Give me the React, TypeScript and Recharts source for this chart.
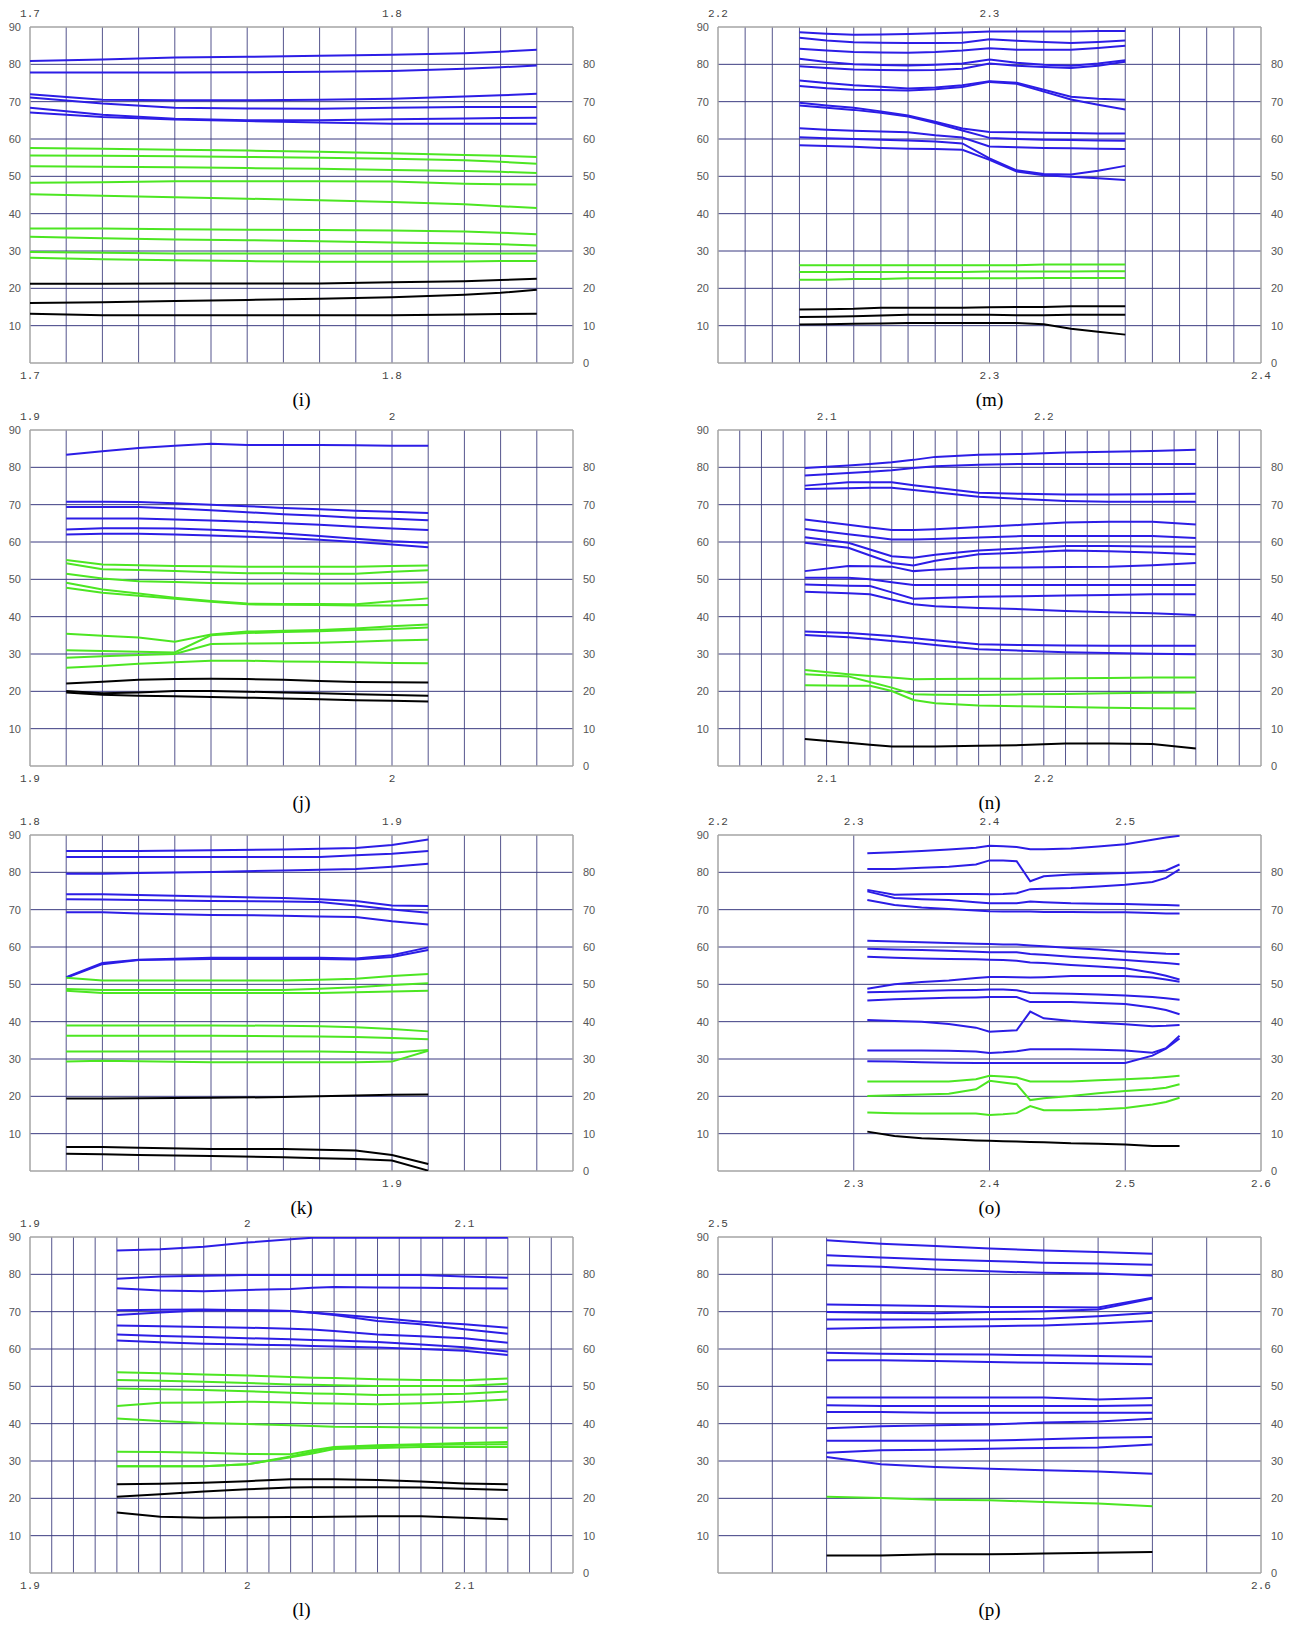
import { LineChart, Line, XAxis, YAxis, ReferenceLine } from 'recharts';

// ---- panel (i) ----
const iX = [1.7, 1.72, 1.74, 1.76, 1.78, 1.8, 1.82, 1.83, 1.84];
const iBlue = [
  [80.9, 81.3, 81.8, 82.0, 82.3, 82.6, 83.0, 83.4, 83.9],
  [77.8, 77.8, 77.8, 77.9, 78.0, 78.2, 78.8, 79.2, 79.7],
  [72.0, 70.5, 70.4, 70.4, 70.5, 70.8, 71.4, 71.7, 72.1],
  [71.1, 69.5, 68.4, 68.2, 68.1, 68.4, 68.6, 68.6, 68.6],
  [68.4, 66.5, 65.4, 65.0, 65.0, 65.3, 65.5, 65.6, 65.7],
  [67.1, 65.9, 65.2, 64.8, 64.4, 64.1, 64.1, 64.1, 64.1],
];
const iGreen = [
  [57.6, 57.4, 57.1, 56.9, 56.6, 56.2, 55.7, 55.5, 55.2],
  [55.6, 55.5, 55.4, 55.2, 55.0, 54.7, 54.3, 53.9, 53.4],
  [52.7, 52.6, 52.4, 52.2, 52.0, 51.7, 51.4, 51.2, 50.9],
  [48.3, 48.4, 48.7, 48.7, 48.7, 48.6, 48.0, 47.9, 47.8],
  [45.2, 44.8, 44.4, 44.0, 43.6, 43.1, 42.5, 42.0, 41.5],
  [36.0, 36.0, 35.8, 35.7, 35.6, 35.5, 35.2, 34.9, 34.5],
  [33.8, 33.4, 33.1, 32.9, 32.6, 32.3, 32.0, 31.8, 31.5],
  [29.7, 29.5, 29.3, 29.3, 29.3, 29.3, 29.3, 29.3, 29.3],
  [28.2, 27.8, 27.5, 27.3, 27.1, 27.1, 27.2, 27.3, 27.3],
];
const iBlack = [
  [21.25, 21.25, 21.3, 21.3, 21.3, 21.6, 21.9, 22.2, 22.6],
  [16.1, 16.3, 16.6, 16.9, 17.2, 17.6, 18.3, 18.8, 19.6],
  [13.2, 12.8, 12.8, 12.8, 12.8, 12.8, 13.0, 13.1, 13.2],
];

// ---- panel (m) ----
const mX = [2.23, 2.24, 2.25, 2.26, 2.27, 2.28, 2.29, 2.3, 2.31, 2.32, 2.33, 2.34, 2.35];
const mBlue = [
  [88.6, 88.2, 87.9, 88.0, 88.1, 88.3, 88.5, 88.8, 88.8, 88.8, 88.8, 88.9, 88.9],
  [87.1, 86.4, 85.9, 85.8, 85.7, 85.7, 85.8, 86.7, 86.3, 86.0, 85.7, 86.0, 86.4],
  [84.2, 83.7, 83.3, 83.2, 83.1, 83.3, 83.7, 84.3, 83.9, 83.9, 83.9, 84.4, 85.0],
  [81.5, 80.6, 80.0, 79.8, 79.7, 79.9, 80.2, 81.3, 80.4, 79.9, 79.6, 80.2, 81.1],
  [79.5, 79.0, 78.6, 78.5, 78.4, 78.5, 78.8, 80.2, 79.6, 79.3, 79.0, 79.6, 80.7],
  [75.7, 75.0, 74.4, 74.0, 73.5, 73.8, 74.4, 75.5, 75.1, 73.2, 71.3, 70.8, 70.5],
  [74.2, 73.6, 73.2, 73.1, 73.0, 73.3, 73.9, 75.3, 74.8, 72.7, 70.6, 69.2, 67.9],
  [69.7, 69.0, 68.4, 67.4, 66.3, 64.6, 62.8, 61.9, 61.8, 61.7, 61.6, 61.5, 61.5],
  [69.0, 68.4, 67.8, 67.0, 66.0, 64.3, 62.3, 60.3, 60.0, 59.8, 59.7, 59.6, 59.5],
  [62.9, 62.5, 62.2, 62.0, 61.8, 61.0, 60.4, 58.0, 57.8, 57.6, 57.5, 57.4, 57.3],
  [60.5, 60.2, 60.0, 59.8, 59.6, 59.3, 58.8, 54.8, 51.6, 50.6, 50.5, 51.5, 52.8],
  [58.3, 58.1, 57.9, 57.6, 57.4, 57.3, 57.1, 54.4, 51.3, 50.3, 49.9, 49.5, 49.0],
];
const mGreen = [
  [26.2, 26.2, 26.2, 26.2, 26.2, 26.2, 26.2, 26.2, 26.2, 26.4, 26.4, 26.4, 26.4],
  [24.4, 24.4, 24.4, 24.4, 24.4, 24.4, 24.4, 24.5, 24.5, 24.5, 24.5, 24.6, 24.6],
  [22.3, 22.3, 22.5, 22.5, 22.7, 22.7, 22.7, 22.7, 22.7, 22.8, 22.8, 22.8, 22.8],
];
const mBlack = [
  [14.3, 14.4, 14.5, 14.8, 14.8, 14.8, 14.8, 14.9, 15.0, 15.0, 15.2, 15.2, 15.2],
  [12.3, 12.4, 12.5, 12.7, 12.9, 12.9, 12.9, 12.9, 12.8, 12.8, 12.9, 12.9, 12.95],
  [10.3, 10.4, 10.5, 10.6, 10.7, 10.7, 10.7, 10.7, 10.7, 10.4, 9.2, 8.4, 7.6],
];

// ---- panel (j) ----
const jX = [1.91, 1.92, 1.93, 1.94, 1.95, 1.96, 1.97, 1.98, 1.99, 2.0, 2.01];
const jBlue = [
  [83.4, 84.3, 85.2, 85.8, 86.3, 86.0, 86.0, 86.0, 85.9, 85.8, 85.8],
  [70.75, 70.75, 70.7, 70.4, 70.0, 69.6, 69.1, 68.8, 68.4, 68.1, 67.8],
  [69.4, 69.4, 69.4, 69.0, 68.5, 68.0, 67.4, 67.0, 66.5, 66.2, 65.8],
  [66.3, 66.3, 66.3, 66.0, 65.75, 65.4, 65.0, 64.6, 64.1, 63.6, 63.2],
  [63.35, 63.7, 63.7, 63.6, 63.3, 62.9, 62.3, 61.6, 60.9, 60.2, 59.8],
  [62.0, 62.2, 62.2, 62.0, 61.75, 61.4, 61.1, 60.6, 60.0, 59.3, 58.6],
];
const jGreen = [
  [55.2, 54.0, 53.8, 53.55, 53.5, 53.4, 53.4, 53.4, 53.4, 53.6, 53.7],
  [54.3, 52.7, 52.5, 52.2, 51.9, 51.6, 51.6, 51.5, 51.5, 52.0, 52.4],
  [51.5, 50.2, 49.5, 49.3, 49.0, 48.9, 48.9, 48.9, 48.9, 49.0, 49.2],
  [49.1, 47.3, 46.2, 45.1, 44.2, 43.5, 43.4, 43.4, 43.3, 44.1, 44.9],
  [47.75, 46.4, 45.6, 44.8, 44.0, 43.3, 43.2, 43.1, 43.0, 43.0, 43.1],
  [35.4, 34.9, 34.4, 33.3, 35.2, 36.0, 36.2, 36.4, 36.8, 37.4, 37.9],
  [31.0, 30.8, 30.6, 30.4, 35.0, 35.6, 35.9, 36.1, 36.4, 36.7, 37.1],
  [29.0, 29.4, 29.7, 30.0, 32.7, 32.8, 32.9, 33.0, 33.3, 33.6, 33.8],
  [26.3, 26.8, 27.4, 27.8, 28.2, 28.2, 28.0, 27.9, 27.8, 27.6, 27.5],
];
const jBlack = [
  [22.1, 22.6, 23.1, 23.3, 23.4, 23.3, 23.1, 22.8, 22.5, 22.4, 22.35],
  [20.1, 19.5, 19.7, 20.1, 20.1, 19.9, 19.7, 19.5, 19.2, 19.0, 18.8],
  [19.7, 19.1, 18.8, 18.7, 18.5, 18.3, 18.1, 17.9, 17.6, 17.5, 17.3],
];

// ---- panel (n) ----
const nX = [2.09, 2.11, 2.12, 2.13, 2.14, 2.15, 2.17, 2.19, 2.21, 2.23, 2.25, 2.27];
const nBlue = [
  [79.8, 80.5, 80.9, 81.35, 82.0, 82.8, 83.4, 83.6, 84.0, 84.2, 84.4, 84.7],
  [77.8, 78.5, 78.8, 79.2, 79.8, 80.3, 80.7, 80.9, 80.9, 80.9, 80.9, 80.9],
  [75.1, 76.0, 76.0, 76.0, 75.2, 74.5, 73.2, 72.9, 72.7, 72.7, 72.8, 72.9],
  [74.2, 74.4, 74.5, 74.5, 73.9, 73.3, 72.1, 71.5, 71.0, 70.75, 70.75, 70.75],
  [66.0, 64.6, 63.9, 63.2, 63.2, 63.4, 64.0, 64.6, 65.2, 65.4, 65.4, 64.7],
  [63.5, 62.1, 61.4, 60.7, 60.7, 60.8, 61.2, 61.6, 61.6, 61.6, 61.6, 61.1],
  [61.3, 59.8, 58.0, 56.2, 55.8, 56.6, 57.7, 58.3, 58.9, 58.9, 58.8, 58.7],
  [59.8, 58.45, 56.4, 54.4, 53.7, 55.0, 56.7, 57.2, 57.7, 57.5, 57.2, 56.7],
  [52.2, 53.55, 53.5, 53.4, 52.2, 52.6, 53.1, 53.2, 53.3, 53.4, 53.8, 54.4],
  [50.4, 50.4, 50.0, 49.2, 48.5, 48.5, 48.5, 48.5, 48.5, 48.5, 48.5, 48.5],
  [48.6, 48.3, 48.2, 46.5, 44.8, 45.0, 45.35, 45.5, 45.7, 45.8, 46.0, 46.0],
  [46.7, 46.3, 46.0, 44.6, 43.3, 42.8, 42.3, 42.0, 41.5, 41.2, 40.9, 40.45],
  [36.0, 35.6, 35.2, 34.8, 34.2, 33.7, 32.6, 32.4, 32.3, 32.2, 32.2, 32.2],
  [35.1, 34.5, 34.0, 33.5, 33.0, 32.4, 31.3, 30.9, 30.5, 30.3, 30.1, 29.95],
];
const nGreen = [
  [25.7, 24.6, 24.1, 23.7, 23.25, 23.3, 23.4, 23.4, 23.5, 23.6, 23.7, 23.7],
  [24.6, 24.0, 22.5, 21.0, 19.2, 19.1, 19.0, 19.2, 19.3, 19.5, 19.6, 19.7],
  [21.6, 21.5, 21.5, 20.1, 17.7, 16.8, 16.2, 16.0, 15.8, 15.6, 15.5, 15.4],
];
const nBlack = [
  [7.2, 6.2, 5.7, 5.2, 5.2, 5.2, 5.4, 5.6, 6.0, 6.0, 5.9, 4.7],
];

// ---- panel (k) ----
const kX = [1.81, 1.82, 1.83, 1.85, 1.87, 1.88, 1.89, 1.9, 1.91];
const kBlue = [
  [85.7, 85.7, 85.7, 85.9, 86.1, 86.3, 86.55, 87.3, 88.8],
  [84.1, 84.1, 84.1, 84.1, 84.1, 84.1, 84.6, 85.0, 85.7],
  [79.6, 79.6, 79.8, 80.1, 80.5, 80.7, 80.9, 81.5, 82.3],
  [74.1, 74.1, 73.9, 73.5, 73.1, 72.8, 72.3, 71.1, 71.0],
  [72.8, 72.7, 72.6, 72.3, 72.2, 72.05, 71.1, 70.05, 69.15],
  [69.3, 69.3, 69.0, 68.6, 68.4, 68.2, 68.05, 66.9, 66.0],
  [51.9, 55.7, 56.6, 57.1, 57.1, 57.1, 56.9, 57.8, 59.9],
  [51.75, 55.4, 56.5, 56.8, 56.8, 56.8, 56.65, 57.35, 59.2],
];
const kGreen = [
  [51.75, 51.0, 51.0, 51.0, 51.0, 51.2, 51.5, 52.2, 52.8],
  [48.75, 48.5, 48.5, 48.5, 48.5, 48.8, 49.2, 49.8, 50.3],
  [48.3, 47.7, 47.7, 47.7, 47.7, 47.7, 47.85, 48.1, 48.3],
  [39.0, 39.0, 39.0, 39.0, 38.9, 38.8, 38.5, 38.05, 37.4],
  [36.2, 36.2, 36.2, 36.2, 36.1, 36.05, 35.9, 35.6, 35.3],
  [32.0, 32.0, 32.0, 32.0, 32.0, 32.0, 31.9, 31.7, 32.4],
  [29.3, 29.5, 29.4, 29.1, 29.1, 29.1, 29.1, 29.3, 32.2],
];
const kBlack = [
  [19.45, 19.45, 19.5, 19.6, 19.8, 20.0, 20.2, 20.4, 20.5],
  [6.4, 6.4, 6.2, 5.9, 5.9, 5.7, 5.5, 4.3, 1.9],
  [4.6, 4.5, 4.3, 4.05, 3.7, 3.4, 3.2, 2.8, 0.1],
];

// ---- panel (o) ----
const oX = [2.31, 2.33, 2.35, 2.37, 2.39, 2.4, 2.41, 2.42, 2.43, 2.44, 2.46, 2.48, 2.5, 2.52, 2.53, 2.54];
const oBlue = [
  [85.1, 85.4, 85.7, 86.1, 86.6, 87.1, 87.0, 86.8, 86.2, 86.2, 86.4, 86.9, 87.55, 88.7, 89.3, 89.8],
  [80.9, 80.9, 81.2, 81.5, 82.1, 83.2, 83.2, 83.0, 77.6, 78.95, 79.4, 79.6, 79.85, 80.1, 80.5, 82.1],
  [75.3, 74.0, 74.1, 74.2, 74.2, 74.15, 74.2, 74.4, 75.5, 75.6, 75.8, 76.2, 76.7, 77.4, 78.5, 80.8],
  [74.9, 73.1, 72.8, 72.6, 72.0, 71.7, 71.7, 71.7, 72.2, 72.0, 71.7, 71.6, 71.5, 71.3, 71.25, 71.1],
  [72.6, 71.25, 70.6, 70.2, 69.8, 69.6, 69.5, 69.5, 69.5, 69.4, 69.4, 69.3, 69.3, 69.1, 69.0, 69.0],
  [61.7, 61.5, 61.3, 61.1, 60.9, 60.8, 60.7, 60.65, 60.4, 60.2, 59.75, 59.3, 58.8, 58.4, 58.2, 58.1],
  [59.5, 59.3, 59.2, 59.0, 58.7, 58.6, 58.6, 58.6, 58.1, 57.9, 57.4, 57.0, 56.5, 56.0, 55.7, 55.4],
  [57.4, 57.1, 56.9, 56.8, 56.7, 56.6, 56.5, 56.3, 55.85, 55.7, 55.2, 54.8, 54.3, 53.1, 52.3, 51.3],
  [48.8, 50.0, 50.6, 51.05, 51.7, 51.95, 51.95, 51.9, 51.8, 51.9, 52.2, 52.2, 52.2, 51.8, 51.3, 50.7],
  [47.9, 48.0, 48.2, 48.4, 48.5, 48.6, 48.6, 48.4, 47.7, 47.6, 47.5, 47.3, 47.0, 46.6, 46.3, 45.9],
  [45.7, 46.0, 46.2, 46.4, 46.5, 46.6, 46.6, 46.6, 45.25, 45.25, 45.25, 45.0, 44.7, 43.8, 43.1, 42.0],
  [40.45, 40.2, 40.0, 39.4, 38.4, 37.3, 37.5, 37.7, 42.7, 40.9, 40.2, 39.7, 39.3, 38.8, 38.9, 39.1],
  [32.3, 32.3, 32.3, 32.2, 32.0, 31.6, 31.8, 32.1, 32.6, 32.6, 32.6, 32.5, 32.3, 31.7, 32.9, 36.2],
  [29.4, 29.3, 29.1, 29.0, 28.9, 28.9, 28.9, 28.9, 28.9, 28.9, 28.9, 28.9, 28.95, 30.9, 32.8, 35.5],
];
const oGreen = [
  [24.0, 24.0, 24.0, 24.0, 24.6, 25.5, 25.3, 25.05, 24.0, 24.0, 24.0, 24.3, 24.6, 24.9, 25.2, 25.5],
  [20.1, 20.3, 20.5, 20.7, 21.9, 24.15, 23.7, 23.25, 19.0, 19.5, 20.1, 20.8, 21.4, 21.9, 22.3, 23.25],
  [15.7, 15.5, 15.4, 15.4, 15.4, 15.0, 15.2, 15.5, 17.4, 16.3, 16.3, 16.45, 16.9, 17.8, 18.5, 19.6],
];
const oBlack = [
  [10.55, 9.4, 8.75, 8.5, 8.2, 8.1, 8.0, 7.9, 7.8, 7.7, 7.4, 7.3, 7.1, 6.7, 6.7, 6.7],
];

// ---- panel (l) ----
const lX = [1.94, 1.96, 1.98, 2.0, 2.02, 2.03, 2.04, 2.06, 2.08, 2.1, 2.12];
const lBlue = [
  [86.4, 86.7, 87.4, 88.5, 89.4, 89.8, 89.8, 89.8, 89.8, 89.8, 89.8],
  [78.8, 79.4, 79.6, 79.8, 79.8, 79.8, 79.8, 79.8, 79.8, 79.4, 79.1],
  [76.25, 75.7, 75.5, 75.8, 76.1, 76.4, 76.6, 76.5, 76.4, 76.3, 76.2],
  [70.4, 70.5, 70.6, 70.4, 70.2, 69.8, 69.3, 68.4, 67.3, 66.6, 65.7],
  [69.1, 69.8, 70.4, 70.3, 70.2, 69.7, 69.1, 67.5, 66.6, 65.3, 64.1],
  [66.3, 66.1, 65.9, 65.7, 65.45, 65.2, 64.8, 63.9, 63.4, 62.9, 61.7],
  [63.9, 63.5, 63.2, 62.9, 62.6, 62.4, 62.3, 61.9, 61.2, 60.5, 59.3],
  [62.3, 61.8, 61.4, 61.2, 61.0, 60.8, 60.7, 60.4, 60.0, 59.5, 58.4],
];
const lGreen = [
  [53.8, 53.5, 53.2, 52.9, 52.5, 52.3, 52.2, 51.9, 51.7, 51.6, 52.1],
  [51.7, 51.5, 51.25, 50.9, 50.5, 50.4, 50.3, 50.1, 50.1, 50.1, 50.7],
  [49.4, 49.2, 49.0, 48.7, 48.3, 48.1, 48.0, 47.7, 47.8, 48.0, 48.6],
  [44.7, 45.6, 45.7, 45.9, 45.7, 45.5, 45.4, 45.2, 45.5, 45.9, 46.5],
  [41.4, 40.7, 40.2, 39.9, 39.6, 39.4, 39.2, 39.1, 39.0, 38.9, 38.9],
  [32.5, 32.4, 32.2, 31.9, 31.8, 32.9, 33.75, 34.2, 34.5, 34.8, 35.1],
  [28.6, 28.6, 28.6, 29.1, 31.2, 32.5, 33.6, 33.9, 34.3, 34.4, 34.5],
  [28.6, 28.6, 28.6, 29.1, 31.0, 32.0, 33.2, 33.5, 33.75, 33.75, 33.75],
];
const lBlack = [
  [23.75, 23.9, 24.2, 24.6, 25.1, 25.1, 25.1, 24.9, 24.5, 24.0, 23.75],
  [20.4, 21.1, 21.8, 22.4, 22.9, 23.0, 23.0, 23.0, 22.9, 22.6, 22.2],
  [16.2, 15.1, 14.8, 14.9, 15.0, 15.0, 15.1, 15.2, 15.2, 14.8, 14.4],
];

// ---- panel (p) ----
const pX = [2.52, 2.53, 2.54, 2.55, 2.56, 2.57, 2.58];
const pBlue = [
  [89.1, 88.2, 87.6, 86.9, 86.4, 86.0, 85.5],
  [85.1, 84.5, 84.0, 83.6, 83.1, 82.9, 82.6],
  [82.4, 82.0, 81.3, 80.8, 80.4, 80.2, 79.7],
  [71.9, 71.7, 71.5, 71.25, 71.25, 71.1, 73.75],
  [69.9, 69.7, 69.6, 69.9, 70.1, 70.6, 73.5],
  [67.9, 67.9, 67.9, 68.0, 68.1, 68.8, 69.7],
  [65.4, 65.7, 65.9, 66.1, 66.3, 66.8, 67.5],
  [59.0, 58.75, 58.6, 58.5, 58.3, 58.1, 57.9],
  [57.0, 57.0, 56.8, 56.5, 56.3, 56.1, 55.9],
  [47.0, 47.0, 47.0, 47.0, 47.0, 46.5, 46.9],
  [44.9, 44.7, 44.7, 44.7, 44.7, 44.7, 44.9],
  [43.1, 43.1, 42.9, 42.9, 42.9, 42.9, 42.9],
  [38.8, 39.3, 39.6, 39.8, 40.3, 40.6, 41.3],
  [35.4, 35.4, 35.4, 35.5, 35.8, 36.2, 36.4],
  [32.2, 32.9, 33.0, 33.3, 33.5, 33.6, 34.4],
  [31.1, 29.1, 28.4, 27.9, 27.5, 27.2, 26.6],
];
const pGreen = [
  [20.4, 20.1, 19.6, 19.5, 19.0, 18.6, 17.9],
];
const pBlack = [
  [4.7, 4.7, 5.0, 5.0, 5.2, 5.4, 5.6],
];

// ---- shared axes ----
const leftTicks = [10, 20, 30, 40, 50, 60, 70, 80, 90];
const rightTicks = [0, 10, 20, 30, 40, 50, 60, 70, 80];
const hGrid = [10, 20, 30, 40, 50, 60, 70, 80];

const BLUE = '#2c1de6';
const GREEN = '#4ce622';
const BLACK = '#000000';
const V_GRID = '#55558d';
const H_GRID = '#3b3b80';
const FRAME = '#a4a4a4';

const PLOT_W = 543;
const PLOT_H = 336;
const AX_W = 30;
const AX_H = 22;
const COL_X = [30, 718];
const ROW_Y = [27, 430, 835, 1237];

interface PanelDef {
  caption: string;
  domain: [number, number];
  step: number;
  topTicks: number[];
  bottomTicks: number[];
  xs: number[];
  blue: number[][];
  green: number[][];
  black: number[][];
  col: number;
  row: number;
}

const panels: PanelDef[] = [
  { caption: '(i)', domain: [1.7, 1.85], step: 0.01, topTicks: [1.7, 1.8], bottomTicks: [1.7, 1.8], xs: iX, blue: iBlue, green: iGreen, black: iBlack, col: 0, row: 0 },
  { caption: '(m)', domain: [2.2, 2.4], step: 0.01, topTicks: [2.2, 2.3], bottomTicks: [2.3, 2.4], xs: mX, blue: mBlue, green: mGreen, black: mBlack, col: 1, row: 0 },
  { caption: '(j)', domain: [1.9, 2.05], step: 0.01, topTicks: [1.9, 2], bottomTicks: [1.9, 2], xs: jX, blue: jBlue, green: jGreen, black: jBlack, col: 0, row: 1 },
  { caption: '(n)', domain: [2.05, 2.3], step: 0.01, topTicks: [2.1, 2.2], bottomTicks: [2.1, 2.2], xs: nX, blue: nBlue, green: nGreen, black: nBlack, col: 1, row: 1 },
  { caption: '(k)', domain: [1.8, 1.95], step: 0.01, topTicks: [1.8, 1.9], bottomTicks: [1.9], xs: kX, blue: kBlue, green: kGreen, black: kBlack, col: 0, row: 2 },
  { caption: '(o)', domain: [2.2, 2.6], step: 0.1, topTicks: [2.2, 2.3, 2.4, 2.5], bottomTicks: [2.3, 2.4, 2.5, 2.6], xs: oX, blue: oBlue, green: oGreen, black: oBlack, col: 1, row: 2 },
  { caption: '(l)', domain: [1.9, 2.15], step: 0.01, topTicks: [1.9, 2, 2.1], bottomTicks: [1.9, 2, 2.1], xs: lX, blue: lBlue, green: lGreen, black: lBlack, col: 0, row: 3 },
  { caption: '(p)', domain: [2.5, 2.6], step: 0.01, topTicks: [2.5], bottomTicks: [2.6], xs: pX, blue: pBlue, green: pGreen, black: pBlack, col: 1, row: 3 },
];

// interior vertical grid positions between the domain ends
function gridValues([lo, hi]: [number, number], step: number) {
  const out: number[] = [];
  const n = Math.round((hi - lo) / step);
  for (let i = 1; i < n; i++) out.push(Math.round((lo + i * step) * 1000) / 1000);
  return out;
}

const xTick = { fontFamily: '"Liberation Mono", monospace', fontSize: 11, fill: '#444' };
const yTick = { fontFamily: '"Liberation Sans", Arial, sans-serif', fontSize: 11, fill: '#555' };

function Panel({ p }: { p: PanelDef }) {
  const series = [
    ...p.blue.map((v) => ({ v, color: BLUE })),
    ...p.green.map((v) => ({ v, color: GREEN })),
    ...p.black.map((v) => ({ v, color: BLACK })),
  ];
  const rows = p.xs.map((x, i) => {
    const row: Record<string, number> = { x };
    series.forEach((s, j) => {
      row['s' + j] = s.v[i];
    });
    return row;
  });
  const left = COL_X[p.col];
  const top = ROW_Y[p.row];

  return (
    <>
      <div style={{ position: 'absolute', left: left - AX_W, top: top - AX_H }}>
        <LineChart
          width={PLOT_W + 2 * AX_W}
          height={PLOT_H + 2 * AX_H}
          data={rows}
          margin={{ top: 0, right: 0, bottom: 0, left: 0 }}
        >
          <XAxis
            xAxisId="top"
            orientation="top"
            type="number"
            dataKey="x"
            domain={p.domain}
            ticks={p.topTicks}
            interval={0}
            allowDataOverflow
            height={AX_H}
            axisLine={false}
            tickLine={false}
            tickSize={0}
            tickMargin={10}
            tick={xTick}
          />
          <XAxis
            xAxisId="bottom"
            orientation="bottom"
            type="number"
            dataKey="x"
            domain={p.domain}
            ticks={p.bottomTicks}
            interval={0}
            allowDataOverflow
            height={AX_H}
            axisLine={false}
            tickLine={false}
            tickSize={0}
            tickMargin={8}
            tick={xTick}
          />
          <YAxis
            yAxisId="left"
            orientation="left"
            type="number"
            domain={[0, 90]}
            ticks={leftTicks}
            interval={0}
            allowDataOverflow
            width={AX_W}
            axisLine={false}
            tickLine={false}
            tickSize={0}
            tickMargin={9}
            tick={yTick}
          />
          <YAxis
            yAxisId="right"
            orientation="right"
            type="number"
            domain={[0, 90]}
            ticks={rightTicks}
            interval={0}
            allowDataOverflow
            width={AX_W}
            axisLine={false}
            tickLine={false}
            tickSize={0}
            tickMargin={10}
            tick={yTick}
          />
          {gridValues(p.domain, p.step).map((g) => (
            <ReferenceLine key={'v' + g} xAxisId="bottom" yAxisId="left" x={g} stroke={V_GRID} strokeWidth={1} />
          ))}
          {hGrid.map((g) => (
            <ReferenceLine key={'h' + g} xAxisId="bottom" yAxisId="left" y={g} stroke={H_GRID} strokeWidth={1} />
          ))}
          <ReferenceLine xAxisId="bottom" yAxisId="left" x={p.domain[0]} stroke={FRAME} strokeWidth={1.5} />
          <ReferenceLine xAxisId="bottom" yAxisId="left" x={p.domain[1]} stroke={FRAME} strokeWidth={1.5} />
          <ReferenceLine xAxisId="bottom" yAxisId="right" y={0} stroke={FRAME} strokeWidth={1.5} />
          <ReferenceLine xAxisId="bottom" yAxisId="right" y={90} stroke={FRAME} strokeWidth={1.5} />
          {/* unstroked copy of the first series keeps the right-hand scale bound to data */}
          <Line
            xAxisId="bottom"
            yAxisId="right"
            type="linear"
            dataKey="s0"
            stroke="none"
            dot={false}
            activeDot={false}
            legendType="none"
            isAnimationActive={false}
          />
          {series.map((s, j) => (
            <Line
              key={j}
              xAxisId="bottom"
              yAxisId="left"
              type="linear"
              dataKey={'s' + j}
              stroke={s.color}
              strokeWidth={2}
              dot={false}
              activeDot={false}
              isAnimationActive={false}
            />
          ))}
        </LineChart>
      </div>
      <div
        style={{
          position: 'absolute',
          left,
          width: PLOT_W,
          top: top + PLOT_H + 25,
          textAlign: 'center',
          fontFamily: '"Liberation Serif", "Times New Roman", serif',
          fontSize: 19,
          lineHeight: '24px',
          color: '#000',
        }}
      >
        {p.caption}
      </div>
    </>
  );
}

export default function App() {
  return (
    <div style={{ position: 'absolute', left: 0, top: 0, width: 1293, height: 1625, background: '#fff' }}>
      {panels.map((p) => (
        <Panel key={p.caption} p={p} />
      ))}
    </div>
  );
}
